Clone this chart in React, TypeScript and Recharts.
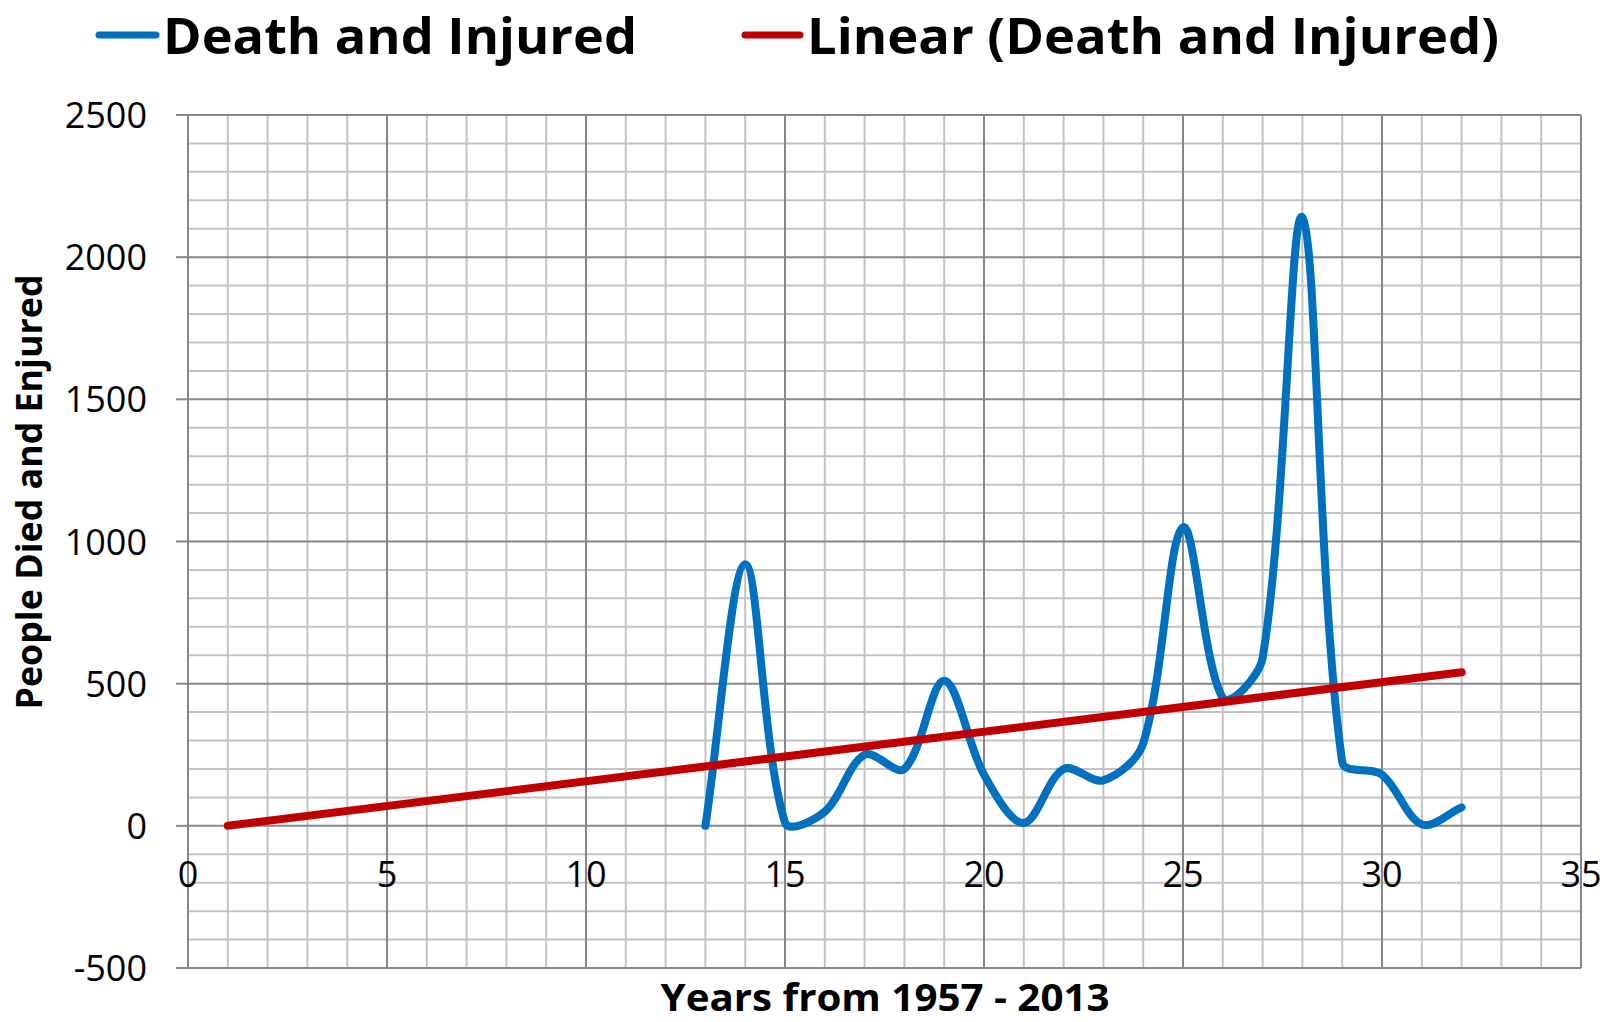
import { LineChart, Line, XAxis, YAxis, CartesianGrid } from 'recharts'

// values
const years = [13, 14, 15, 16, 17, 18, 19, 20, 21, 22, 23, 24, 25, 26, 27, 28, 29, 30, 31, 32]
const deathsInjured = [0, 920, 12, 50, 250, 200, 510, 180, 10, 200, 160, 290, 1050, 450, 590, 2140, 225, 180, 5, 65]
const trendYears = [1, 32]
const trendValues = [0, 540]

const xTicks = [0, 5, 10, 15, 20, 25, 30, 35]
const yTicks = [-500, 0, 500, 1000, 1500, 2000, 2500]

const mainData = years.map((x, i) => ({ x, v: deathsInjured[i] }))
const trendData = trendYears.map((x, i) => ({ x, v: trendValues[i] }))

const minorX: number[] = []
for (let i = 1; i < 35; i++) if (i % 5 !== 0) minorX.push(i)
const minorY: number[] = []
for (let v = -400; v < 2500; v += 100) if (v % 500 !== 0) minorY.push(v)

const W = 1612
const H = 1022
const margin = { top: 115, right: 31, bottom: 24, left: 38 }
const xAxisH = 30
const plotTop = margin.top
const plotBottom = H - margin.bottom - xAxisH
const zeroY = plotTop + (plotBottom - plotTop) * (2500 / 3000)

const FONT = "'Open Sans', 'Noto Sans', sans-serif"
const MAJOR = '#878787'
const MINOR = '#c3c3c3'
const BLUE = '#0070c0'
const RED = '#c00000'

// Excel-like smoothing: bezier with control points scaled by segment lengths
function excelSmooth(context: any) {
  let pts: number[][] = []
  return {
    areaStart() {},
    areaEnd() {},
    lineStart() {
      pts = []
    },
    point(x: number, y: number) {
      pts.push([+x, +y])
    },
    lineEnd() {
      const n = pts.length
      if (!n) return
      context.moveTo(pts[0][0], pts[0][1])
      const d = (a: number[], b: number[]) => Math.hypot(b[0] - a[0], b[1] - a[1])
      for (let i = 0; i < n - 1; i++) {
        const p0 = pts[Math.max(i - 1, 0)]
        const p1 = pts[i]
        const p2 = pts[i + 1]
        const p3 = pts[Math.min(i + 2, n - 1)]
        const d01 = d(p0, p1)
        const d12 = d(p1, p2)
        const d23 = d(p2, p3)
        const k1 = d12 / (d01 + d12 || 1) / 3
        const k2 = d12 / (d12 + d23 || 1) / 3
        context.bezierCurveTo(
          p1[0] + (p2[0] - p0[0]) * k1,
          p1[1] + (p2[1] - p0[1]) * k1,
          p2[0] - (p3[0] - p1[0]) * k2,
          p2[1] - (p3[1] - p1[1]) * k2,
          p2[0],
          p2[1]
        )
      }
    },
  }
}

const XTick = (props: any) => (
  <text x={props.x} y={zeroY + 61} textAnchor="middle" fontFamily={FONT} fontSize={36} fill="#000">
    {props.payload.value}
  </text>
)

const YTick = (props: any) => (
  <text x={props.x} y={props.y + 13} textAnchor="end" fontFamily={FONT} fontSize={36} fill="#000">
    {props.payload.value}
  </text>
)

export default function App() {
  return (
    <div style={{ position: 'absolute', left: 0, top: 0, width: W, height: H, background: '#fff' }}>
      <LineChart width={W} height={H} margin={margin}>
        <CartesianGrid
          stroke={MINOR}
          strokeWidth={2}
          verticalCoordinatesGenerator={({ offset }: any) =>
            minorX.map((v) => offset.left + (v / 35) * offset.width)
          }
          horizontalCoordinatesGenerator={({ offset }: any) =>
            minorY.map((v) => offset.top + ((2500 - v) / 3000) * offset.height)
          }
        />
        <CartesianGrid stroke={MAJOR} strokeWidth={2} />
        <XAxis
          dataKey="x"
          type="number"
          domain={[0, 35]}
          ticks={xTicks}
          height={xAxisH}
          axisLine={false}
          tickLine={false}
          tick={<XTick />}
          allowDataOverflow
        />
        <YAxis
          type="number"
          domain={[-500, 2500]}
          ticks={yTicks}
          width={150}
          axisLine={{ stroke: MAJOR, strokeWidth: 2 }}
          tickLine={{ stroke: MAJOR, strokeWidth: 2 }}
          tickSize={12}
          tickMargin={29}
          tick={<YTick />}
          allowDataOverflow
        />
        <Line
          data={mainData}
          dataKey="v"
          type={excelSmooth as any}
          stroke={BLUE}
          strokeWidth={8}
          strokeLinecap="round"
          dot={false}
          activeDot={false}
          isAnimationActive={false}
        />
        <Line
          data={trendData}
          dataKey="v"
          type="linear"
          stroke={RED}
          strokeWidth={8}
          strokeLinecap="round"
          dot={false}
          activeDot={false}
          isAnimationActive={false}
        />
      </LineChart>
      <svg
        width={W}
        height={H}
        style={{ position: 'absolute', left: 0, top: 0, pointerEvents: 'none' }}
      >
        <line x1={99} y1={35} x2={156} y2={35} stroke={BLUE} strokeWidth={7} strokeLinecap="round" />
        <text
          x={163}
          y={54}
          fontFamily={FONT}
          fontWeight={700}
          fontSize={50}
          textLength={474}
          lengthAdjust="spacingAndGlyphs"
        >
          Death and Injured
        </text>
        <line x1={745} y1={35} x2={800} y2={35} stroke={RED} strokeWidth={7} strokeLinecap="round" />
        <text
          x={807}
          y={54}
          fontFamily={FONT}
          fontWeight={700}
          fontSize={50}
          textLength={692}
          lengthAdjust="spacingAndGlyphs"
        >
          Linear (Death and Injured)
        </text>
        <text
          x={885}
          y={1011}
          textAnchor="middle"
          fontFamily={FONT}
          fontWeight={700}
          fontSize={37}
          textLength={449}
          lengthAdjust="spacingAndGlyphs"
        >
          Years from 1957 - 2013
        </text>
        <text
          transform="translate(42, 492) rotate(-90)"
          textAnchor="middle"
          fontFamily={FONT}
          fontWeight={700}
          fontSize={35}
          textLength={435}
          lengthAdjust="spacingAndGlyphs"
        >
          People Died and Enjured
        </text>
      </svg>
    </div>
  )
}
